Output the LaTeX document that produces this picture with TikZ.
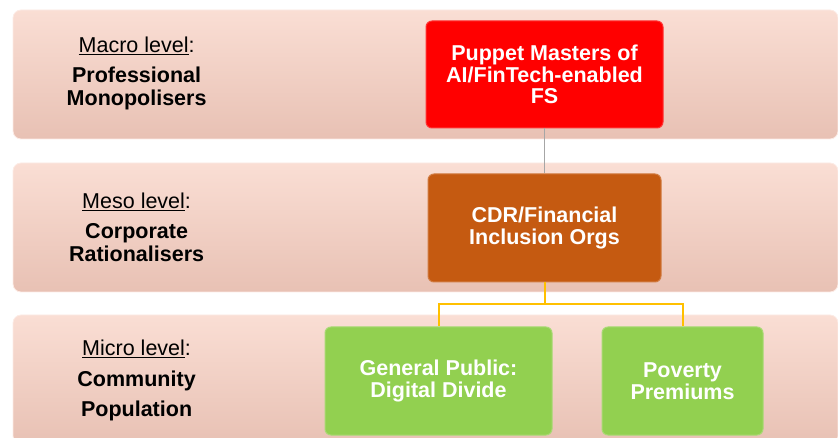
\documentclass[tikz,border=0pt]{standalone}
\usepackage{fontspec}
\setmainfont{Liberation Sans}
\usetikzlibrary{positioning}

\definecolor{bandtop}{HTML}{FADED4}
\definecolor{bandbot}{HTML}{E8C1B4}
\definecolor{puppetred}{HTML}{FF0000}
\definecolor{cdrorange}{HTML}{C55A11}
\definecolor{publicgreen}{HTML}{92D050}
\definecolor{linkgold}{HTML}{FFC000}

\begin{document}
\begin{tikzpicture}[x=1pt,y=-1pt,thick,
	font=\fontsize{21.5}{22.5}\selectfont,
	band/.style={rounded corners=8pt, draw=bandtop!60!white, line width=0.8pt,
		top color=bandtop, bottom color=bandbot, minimum width=825pt, minimum height=129pt},
	main node/.style={rounded corners=6pt, line width=1pt, text=white, align=center,
		font=\fontsize{21.5}{21.5}\selectfont\bfseries, inner sep=2pt},
	lvl/.style={align=center}]
	
	\useasboundingbox (0,0) rectangle (838,438);
	
	% the three levels
	\node[band] (macro) at (425.5,74.5) {};
	\node[band] (meso) at (425.5,227.5) {};
	\node[band] (micro) at (425.5,379.5) {};
	
	\node[lvl] (macrolbl) at ([xshift=124pt,yshift=1pt]macro.west)
	{\underline{Macro level}:\\[7.5pt]\textbf{Professional}\\\textbf{Monopolisers}};
	\node[lvl] (mesolbl) at ([xshift=124pt]meso.west)
	{\underline{Meso level}:\\[7.5pt]\textbf{Corporate}\\\textbf{Rationalisers}};
	\node[lvl] (microlbl) at ([xshift=124pt,yshift=-1pt]micro.west)
	{\underline{Micro level}:\\[8.5pt]\textbf{Community}\\[7.5pt]\textbf{Population}};
	
	% actors
	\node[main node, fill=puppetred, draw=red!80!white, minimum width=237pt, minimum height=107pt]
	(puppet) at (544.5,74.5) {Puppet Masters of\\AI/FinTech-enabled\\FS};
	\node[main node, fill=cdrorange, draw=cdrorange!80!white, minimum width=233pt, minimum height=108pt]
	(cdr) at (544.5,228) {CDR/Financial\\Inclusion Orgs};
	\node[main node, fill=publicgreen, draw=publicgreen!80!white, minimum width=227pt, minimum height=108pt]
	(public) at (438.5,381) {General Public:\\Digital Divide};
	\node[main node, fill=publicgreen, draw=publicgreen!80!white, minimum width=161pt, minimum height=108pt]
	(poverty) at (682.5,381) {Poverty\\Premiums};
	
	\draw[gray!70, line width=1.4pt] (puppet) -- (cdr);
	\draw[linkgold, line width=2pt] (cdr.south) -- ++(0,22) -| (public.north);
	\draw[linkgold, line width=2pt] (cdr.south) -- ++(0,22) -| (poverty.north);
\end{tikzpicture}
\end{document}
